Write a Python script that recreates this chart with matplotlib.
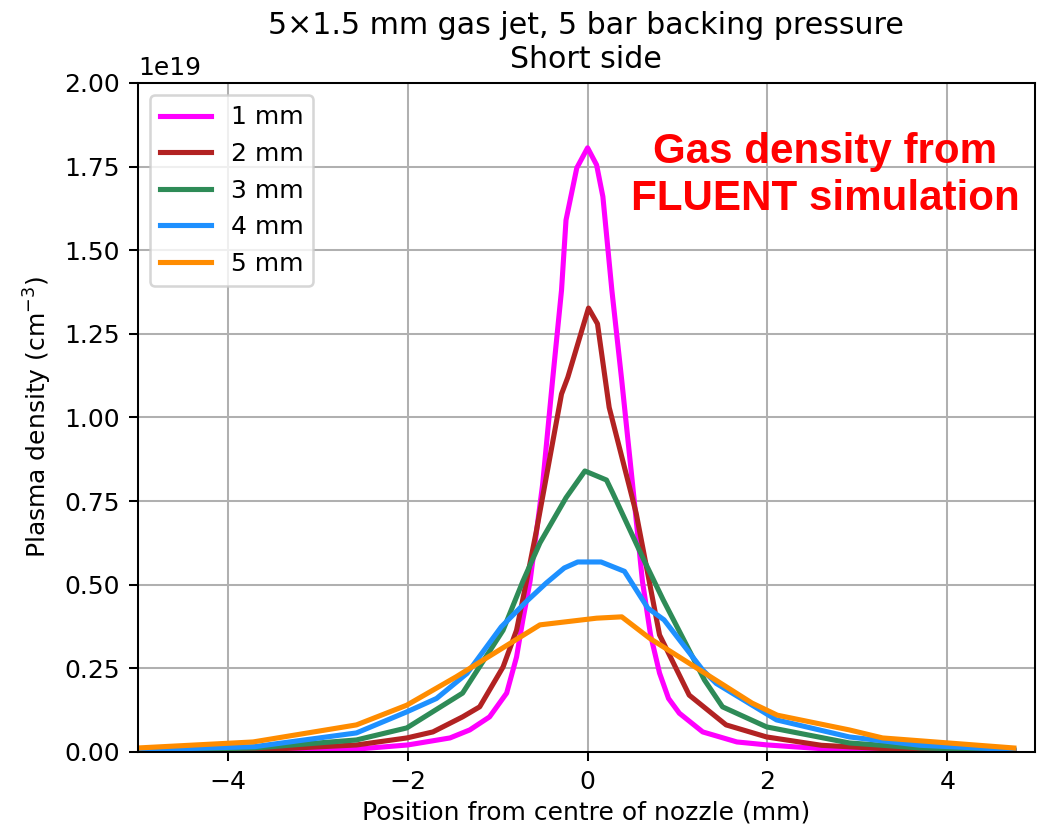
import numpy as np
import matplotlib
matplotlib.use("Agg")
import matplotlib.pyplot as plt

# series (x in mm, density in units of 1e19 cm^-3)
x_1mm = [-5.0, -3.7, -2.6, -2.0, -1.53, -1.31, -1.09, -0.9, -0.79, -0.72, -0.64, -0.5, -0.39, -0.29,
         -0.24, -0.12, 0.0, 0.1, 0.17, 0.27, 0.38, 0.5, 0.61, 0.7, 0.8, 0.9, 1.02, 1.28, 1.66, 2.0,
         2.6, 3.3, 4.0, 4.74]
n_1mm = [0.001, 0.003, 0.008, 0.021, 0.042, 0.066, 0.105, 0.176, 0.284, 0.395, 0.51, 0.8, 1.11, 1.38,
         1.59, 1.746, 1.806, 1.755, 1.66, 1.38, 1.11, 0.8, 0.51, 0.35, 0.236, 0.16, 0.116, 0.06, 0.03, 0.021,
         0.01, 0.005, 0.003, 0.002]

x_2mm = [-5.0, -3.7, -2.57, -2.01, -1.72, -1.39, -1.2, -0.94, -0.79, -0.68, -0.57, -0.29, -0.22, 0.01,
         0.11, 0.24, 0.54, 0.8, 1.13, 1.54, 1.99, 2.6, 3.3, 4.0, 4.74]
n_2mm = [0.002, 0.006, 0.021, 0.042, 0.06, 0.105, 0.135, 0.254, 0.364, 0.51, 0.66, 1.07, 1.12, 1.327,
         1.28, 1.03, 0.714, 0.35, 0.17, 0.081, 0.045, 0.02, 0.01, 0.005, 0.003]

x_3mm = [-5.0, -3.7, -2.57, -2.01, -1.39, -0.94, -0.72, -0.53, -0.24, -0.03, 0.21, 0.28, 0.61, 0.84,
         1.3, 1.5, 1.99, 2.91, 3.7, 4.74]
n_3mm = [0.004, 0.012, 0.036, 0.072, 0.176, 0.364, 0.51, 0.625, 0.76, 0.84, 0.813, 0.774, 0.583, 0.455,
         0.215, 0.135, 0.075, 0.027, 0.012, 0.005]

x_4mm = [-5.0, -3.7, -2.57, -2.01, -1.68, -1.34, -0.96, -0.68, -0.46, -0.26, -0.11, 0.15, 0.41, 0.67,
         0.85, 1.28, 1.43, 2.1, 2.91, 3.7, 4.74]
n_4mm = [0.006, 0.016, 0.057, 0.12, 0.16, 0.235, 0.374, 0.45, 0.505, 0.55, 0.568, 0.568, 0.54, 0.43,
         0.395, 0.245, 0.205, 0.096, 0.045, 0.02, 0.007]

x_5mm = [-5.0, -3.72, -2.57, -2.01, -1.46, -0.53, 0.1, 0.38, 0.69, 1.83, 2.11, 2.91, 3.28, 4.74]
n_5mm = [0.012, 0.03, 0.081, 0.14, 0.225, 0.38, 0.4, 0.404, 0.34, 0.146, 0.11, 0.066, 0.042, 0.012]

labels = ["1 mm", "2 mm", "3 mm", "4 mm", "5 mm"]
colors = ["magenta", "firebrick", "seagreen", "dodgerblue", "darkorange"]

xs = [x_1mm, x_2mm, x_3mm, x_4mm, x_5mm]
ns = [n_1mm, n_2mm, n_3mm, n_4mm, n_5mm]

plt.rcParams["font.size"] = 9.8

fig = plt.figure(figsize=(1045 / 184, 826 / 184), dpi=184)
ax = fig.add_axes([0.132, 0.0896, 0.858, 0.81])

for x, n, lab, c in zip(xs, ns, labels, colors):
    ax.plot(x, np.array(n) * 1e19, color=c, lw=2.0, label=lab)

ax.set_xlim(-5, 4.97)
ax.set_ylim(0, 2e19)
ax.grid(True)
ax.legend(loc="upper left")
ax.set_xlabel("Position from centre of nozzle (mm)", labelpad=2.5)
ax.set_ylabel("Plasma density (cm$^{-3}$)")
ax.set_title("5×1.5 mm gas jet, 5 bar backing pressure\nShort side")

fig.text(0.7895, 0.8027, "Gas density from", color="red", fontsize=16.5,
         fontweight="bold", family="Liberation Sans", ha="center", va="baseline")
fig.text(0.7895, 0.7458, "FLUENT simulation", color="red", fontsize=16.5,
         fontweight="bold", family="Liberation Sans", ha="center", va="baseline")

fig.savefig("out.png", dpi=184)
